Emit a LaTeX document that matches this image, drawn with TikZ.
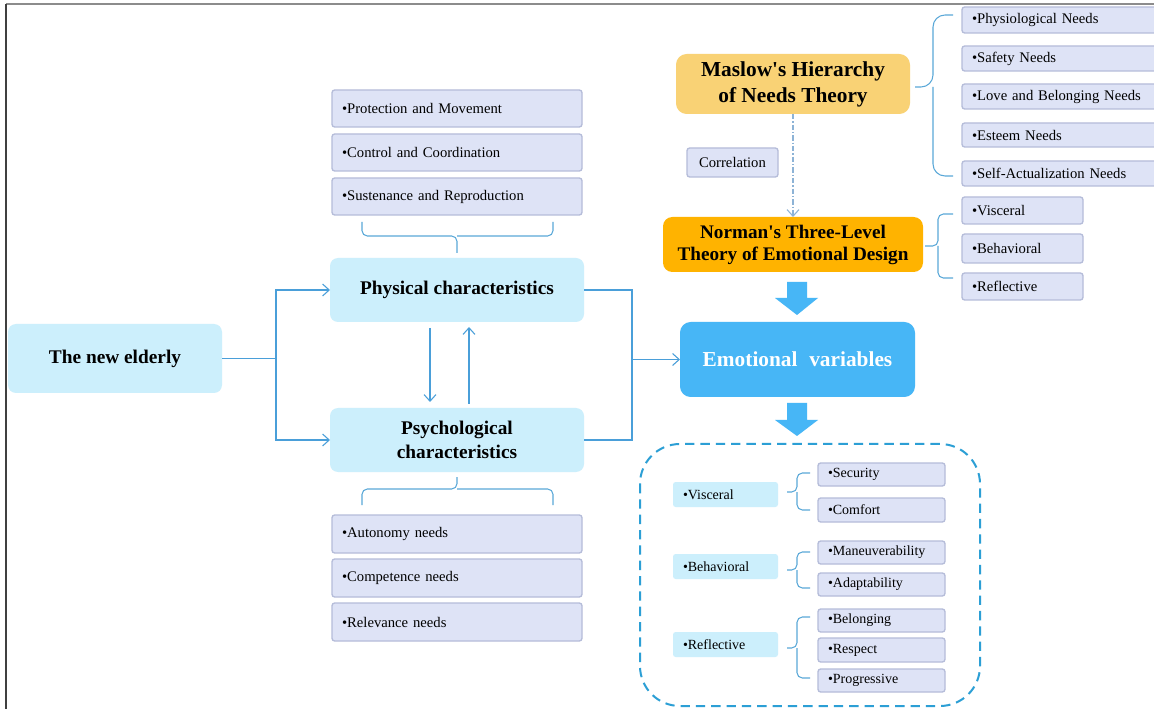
\documentclass[tikz,border=0pt]{standalone}
\usepackage{fontspec}
\setmainfont{Liberation Serif}[Ligatures=TeXOff]
\usetikzlibrary{arrows.meta,calc}
\definecolor{lblue}{HTML}{CCEFFC}
\definecolor{lav}{HTML}{DEE3F6}
\definecolor{lavd}{HTML}{B5BCD9}
\definecolor{emoc}{HTML}{47B6F6}
\definecolor{maslowc}{HTML}{F9D275}
\definecolor{normanc}{HTML}{FFB300}
\definecolor{connc}{HTML}{4A9FD9}
\definecolor{dashc}{HTML}{2C9FD5}
\definecolor{bracec}{HTML}{5AA8D8}
\definecolor{corrc}{HTML}{8DB3D6}
\newcommand\CBox[7]{%
  \pgfmathsetmacro\bw{(#5-#3)*0.75}\pgfmathsetmacro\bh{(#6-#4)*0.75}%
  \node[#1, minimum width=\bw pt, minimum height=\bh pt, align=center] (#2) at ({(#3+#5)/2},{(#4+#6)/2}) {#7};}
\newcommand\LBox[7]{%
  \pgfmathsetmacro\bw{(#5-#3)*0.75}\pgfmathsetmacro\bh{(#6-#4)*0.75}\pgfmathsetmacro\tw{(#5-#3-20)*0.75}%
  \node[#1, minimum width=\bw pt, minimum height=\bh pt, text width=\tw pt, inner xsep=7.5pt, align=left] (#2) at ({(#3+#5)/2},{(#4+#6)/2}) {#7};}
\begin{document}
\begin{tikzpicture}[x=0.75pt,y=-0.75pt,
  bluebox/.style={fill=lblue, rounded corners=6pt, inner sep=0pt, outer sep=0pt, font=\fontsize{14.5}{17.5}\selectfont\bfseries},
  lavbox/.style={fill=lav, draw=lavd, line width=1pt, rounded corners=2pt, inner ysep=0pt, outer sep=0pt, font=\fontsize{11}{13}\selectfont},
  sublav/.style={lavbox, font=\fontsize{10.5}{12}\selectfont},
  smallblue/.style={fill=lblue, rounded corners=2pt, inner ysep=0pt, outer sep=0pt, font=\fontsize{10.5}{12}\selectfont},
  emobox/.style={fill=emoc, rounded corners=8pt, inner sep=0pt, outer sep=0pt, text=white, font=\fontsize{16}{19}\selectfont\bfseries},
  maslowbox/.style={fill=maslowc, rounded corners=8pt, inner sep=0pt, outer sep=0pt, font=\fontsize{16}{19.5}\selectfont\bfseries},
  normanbox/.style={fill=normanc, rounded corners=7pt, inner sep=0pt, outer sep=0pt, font=\fontsize{14.4}{16.5}\selectfont\bfseries},
  conn/.style={draw=connc, line width=0.8pt},
  arr/.style={conn, -{Straight Barb[length=5pt,width=9pt]}},
  brc/.style={draw=bracec, line width=0.8pt, rounded corners=4pt},
  bigbrc/.style={draw=bracec, line width=0.8pt, rounded corners=9pt},
  bigarr/.style={fill=emoc}
]
\clip (0,0) rectangle (1154,709);
\fill[white] (0,0) rectangle (1154,709);
\draw[gray!90, line width=1.6pt] (6,4) -- (1154,4);
\draw[black!75, line width=1.2pt] (6,4) -- (6,709);

% left part
\CBox{bluebox}{elder}{8}{324}{222}{393}{The new elderly}
\CBox{bluebox}{phys}{330}{258}{584}{322}{Physical characteristics}
\CBox{bluebox}{psych}{330}{408}{584}{472}{Psychological\\characteristics}

\LBox{lavbox}{p1}{332}{90}{582}{127}{•Protection and Movement}
\LBox{lavbox}{p2}{332}{134}{582}{171}{•Control and Coordination}
\LBox{lavbox}{p3}{332}{178}{582}{215}{•Sustenance and Reproduction}
\LBox{lavbox}{s1}{332}{515}{582}{553}{•Autonomy needs}
\LBox{lavbox}{s2}{332}{559}{582}{597}{•Competence needs}
\LBox{lavbox}{s3}{332}{603}{582}{641}{•Relevance needs}

% braces left
\draw[brc] (362,222) -- (362,236) -- (457,236) -- (457,253);
\draw[brc] (553,222) -- (553,236) -- (457,236);
\draw[brc] (362,505) -- (362,489) -- (457,489) -- (457,477);
\draw[brc] (553,505) -- (553,489) -- (457,489);

% right top
\CBox{maslowbox}{maslow}{676}{54}{910}{114}{Maslow's Hierarchy\\of Needs Theory}
\CBox{normanbox}{norman}{663}{217}{923}{272}{Norman's Three-Level\\Theory of Emotional Design}
\CBox{lavbox}{corr}{687}{148}{778}{177}{Correlation}
\CBox{emobox}{emo}{680}{322}{915}{397}{Emotional\hspace{0.3em} variables}

\LBox{lavbox}{m1}{962}{7}{1172}{33}{•Physiological Needs}
\LBox{lavbox}{m2}{962}{46}{1172}{71}{•Safety Needs}
\LBox{lavbox}{m3}{962}{84}{1172}{109}{•Love and Belonging Needs}
\LBox{lavbox}{m4}{962}{123}{1172}{147}{•Esteem Needs}
\LBox{lavbox}{m5}{962}{161}{1172}{186}{•Self-Actualization Needs}

\LBox{lavbox}{n1}{962}{197}{1083}{224}{•Visceral}
\LBox{lavbox}{n2}{962}{234}{1083}{263}{•Behavioral}
\LBox{lavbox}{n3}{962}{273}{1083}{300}{•Reflective}

\draw[bigbrc] (953,15) -- (933,15) -- (933,87) -- (915,87);
\draw[bigbrc] (953,176) -- (933,176) -- (933,87);
\draw[brc] (953,214) -- (938,214) -- (938,246) -- (925,246);
\draw[brc] (953,278) -- (938,278) -- (938,246);

% connectors
\coordinate (jL) at (276,358.5);
\coordinate (jR) at (632,359.5);
\draw[conn] (elder.east) -- (jL);
\draw[arr] (jL) |- (phys.west);
\draw[arr] (jL) |- (psych.west);
\draw[conn] (phys.east) -| (jR);
\draw[conn] (psych.east) -| (jR);
\draw[arr] (jR) -- (emo.west);
\draw[arr] ($(phys.south)+(-27,6)$) -- ($(psych.north)+(-27,-6)$);
\draw[arr] ($(psych.north)+(12,-4)$) -- ($(phys.south)+(12,5)$);
\draw[draw=corrc, line width=0.8pt, dash pattern=on 4pt off 1.5pt on 1pt off 1.5pt, -{Straight Barb[length=5pt,width=9pt]}] (maslow.south) -- (norman.north);

% big arrows
\fill[bigarr] (787,282) -- (807,282) -- (807,298) -- (818,298) -- (797,315) -- (775,298) -- (787,298) -- cycle;
\fill[bigarr] (787,403) -- (807,403) -- (807,420) -- (818,420) -- (797,436) -- (775,420) -- (787,420) -- cycle;

% dashed container
\draw[dashc, line width=1.5pt, dash pattern=on 7pt off 4.5pt, rounded corners=30pt] (640,444) rectangle (980,706);

\LBox{smallblue}{v1}{673}{482}{778}{507}{•Visceral}
\LBox{smallblue}{v2}{673}{554}{778}{579}{•Behavioral}
\LBox{smallblue}{v3}{673}{632}{778}{657}{•Reflective}

\LBox{sublav}{sec}{818}{463}{945}{486}{•Security}
\LBox{sublav}{com}{818}{498}{945}{522}{•Comfort}
\LBox{sublav}{man}{818}{541}{945}{564}{•Maneuverability}
\LBox{sublav}{ada}{818}{573}{945}{596}{•Adaptability}
\LBox{sublav}{bel}{818}{609}{945}{632}{•Belonging}
\LBox{sublav}{res}{818}{638}{945}{662}{•Respect}
\LBox{sublav}{pro}{818}{669}{945}{692}{•Progressive}

\draw[brc] (810,473) -- (797,473) -- (797,492) -- (787,492);
\draw[brc] (810,510) -- (797,510) -- (797,492);
\draw[brc] (810,552) -- (797,552) -- (797,570) -- (787,570);
\draw[brc] (810,588) -- (797,588) -- (797,570);
\draw[brc] (810,617) -- (797,617) -- (797,648) -- (787,648);
\draw[brc] (810,678) -- (797,678) -- (797,648);
\end{tikzpicture}
\end{document}
